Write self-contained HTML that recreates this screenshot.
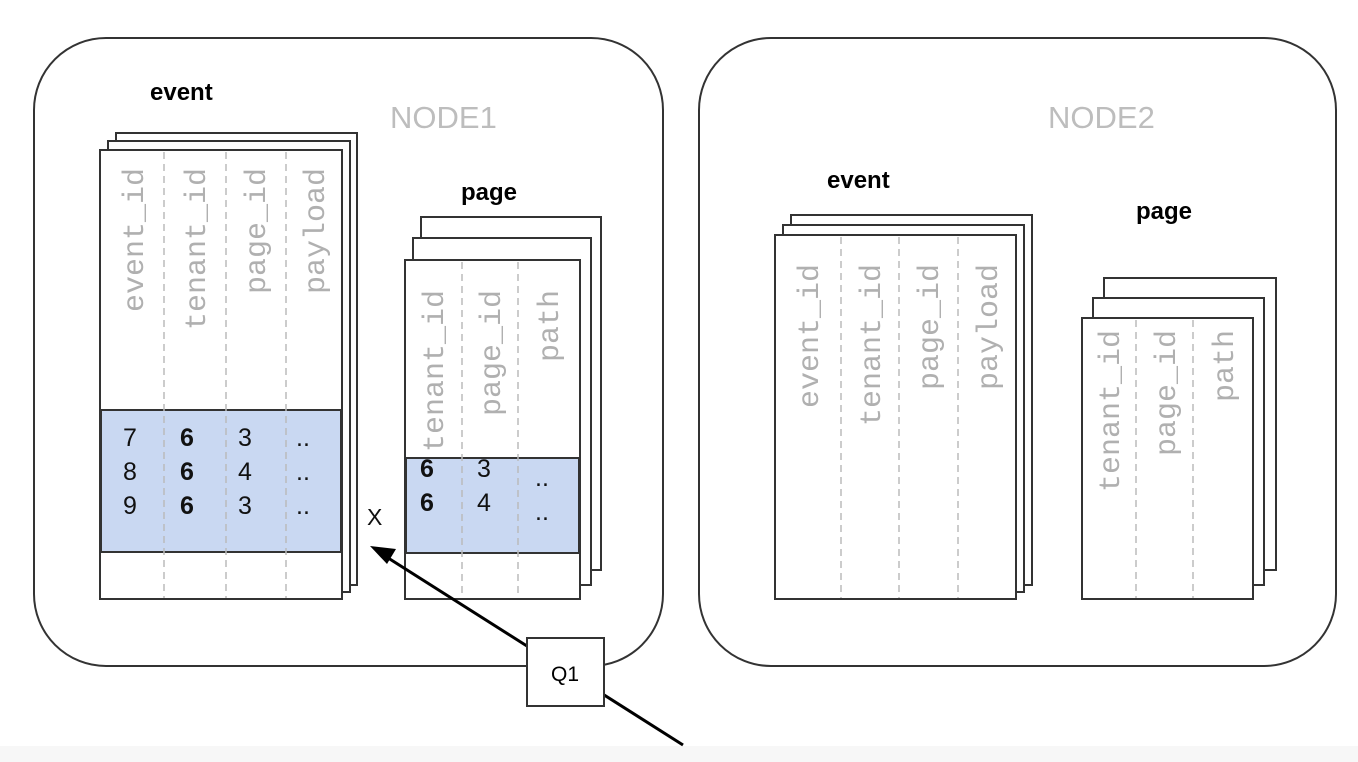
<!DOCTYPE html>
<html><head><meta charset="utf-8"><style>
body{margin:0;background:#fff}
svg{display:block}
.h{font-family:"Liberation Mono",monospace;font-size:30px;fill:#b0b0b0}
.t{font-family:"Liberation Sans",sans-serif;font-weight:bold;font-size:24px;fill:#000}
.n{font-family:"Liberation Sans",sans-serif;font-size:31px;fill:#bdbdbd}
.d{font-family:"Liberation Sans",sans-serif;font-size:25px;fill:#111}
.b{font-weight:bold}
</style></head><body>
<svg width="1358" height="762" viewBox="0 0 1358 762">
<rect x="0" y="746" width="1358" height="16" fill="#f7f7f7"/>
<rect x="34" y="38" width="629" height="628" rx="72" fill="none" stroke="#333" stroke-width="2"/>
<rect x="699" y="38" width="637" height="628" rx="72" fill="none" stroke="#333" stroke-width="2"/>
<g stroke="#333" stroke-width="2" fill="#fff">
<rect x="116" y="133" width="241" height="452"/>
<rect x="108" y="141" width="242" height="451"/>
<rect x="100" y="150" width="242" height="449"/>
<rect x="421" y="217" width="180" height="353"/>
<rect x="413" y="238" width="178" height="347"/>
<rect x="405" y="260" width="175" height="339"/>
<rect x="791" y="215" width="241" height="370"/>
<rect x="783" y="225" width="241" height="367"/>
<rect x="775" y="235" width="241" height="364"/>
<rect x="1104" y="278" width="172" height="292"/>
<rect x="1093" y="298" width="171" height="287"/>
<rect x="1082" y="318" width="171" height="281"/>
</g>
<rect x="101" y="410" width="240" height="142" fill="#c9d8f2" stroke="#333" stroke-width="2"/>
<rect x="406" y="458" width="173" height="95" fill="#c9d8f2" stroke="#333" stroke-width="2"/>
<g stroke="#bbb" stroke-width="1.5" stroke-dasharray="7,5">
<path d="M164 152V598M226 152V598M286 152V598M462 262V598M518 262V598M841 237V598M899 237V598M958 237V598M1136 320V598M1193 320V598"/>
</g>
<g class="h">
<text transform="translate(143,168) rotate(-90)" text-anchor="end">event_id</text>
<text transform="translate(205,168) rotate(-90)" text-anchor="end">tenant_id</text>
<text transform="translate(265,168) rotate(-90)" text-anchor="end">page_id</text>
<text transform="translate(324,168) rotate(-90)" text-anchor="end">payload</text>
<text transform="translate(443,290) rotate(-90)" text-anchor="end">tenant_id</text>
<text transform="translate(500,290) rotate(-90)" text-anchor="end">page_id</text>
<text transform="translate(558,290) rotate(-90)" text-anchor="end">path</text>
<text transform="translate(818,264) rotate(-90)" text-anchor="end">event_id</text>
<text transform="translate(880,264) rotate(-90)" text-anchor="end">tenant_id</text>
<text transform="translate(938,264) rotate(-90)" text-anchor="end">page_id</text>
<text transform="translate(997,264) rotate(-90)" text-anchor="end">payload</text>
<text transform="translate(1119,330) rotate(-90)" text-anchor="end">tenant_id</text>
<text transform="translate(1175,330) rotate(-90)" text-anchor="end">page_id</text>
<text transform="translate(1233,330) rotate(-90)" text-anchor="end">path</text>
</g>
<text class="t" x="150" y="100">event</text>
<text class="n" x="390" y="128">NODE1</text>
<text class="t" x="461" y="200">page</text>
<text class="t" x="827" y="188">event</text>
<text class="n" x="1048" y="128">NODE2</text>
<text class="t" x="1136" y="219">page</text>
<g class="d">
<text x="123" y="446">7</text><text x="180" y="446" class="b">6</text><text x="238" y="446">3</text><text x="296" y="446">..</text>
<text x="123" y="480">8</text><text x="180" y="480" class="b">6</text><text x="238" y="480">4</text><text x="296" y="480">..</text>
<text x="123" y="514">9</text><text x="180" y="514" class="b">6</text><text x="238" y="514">3</text><text x="296" y="514">..</text>
<text x="420" y="477" class="b">6</text><text x="477" y="477">3</text><text x="535" y="486">..</text>
<text x="420" y="511" class="b">6</text><text x="477" y="511">4</text><text x="535" y="520">..</text>
<text x="367" y="525" font-size="23">X</text>
</g>
<line x1="683" y1="745" x2="385" y2="556" stroke="#000" stroke-width="3"/>
<polygon points="370,546 396,549 387,564" fill="#000"/>
<rect x="527" y="638" width="77" height="68" fill="#fff" stroke="#333" stroke-width="2"/>
<text x="565" y="681" text-anchor="middle" font-family="Liberation Sans,sans-serif" font-size="21">Q1</text>
</svg>
</body></html>
